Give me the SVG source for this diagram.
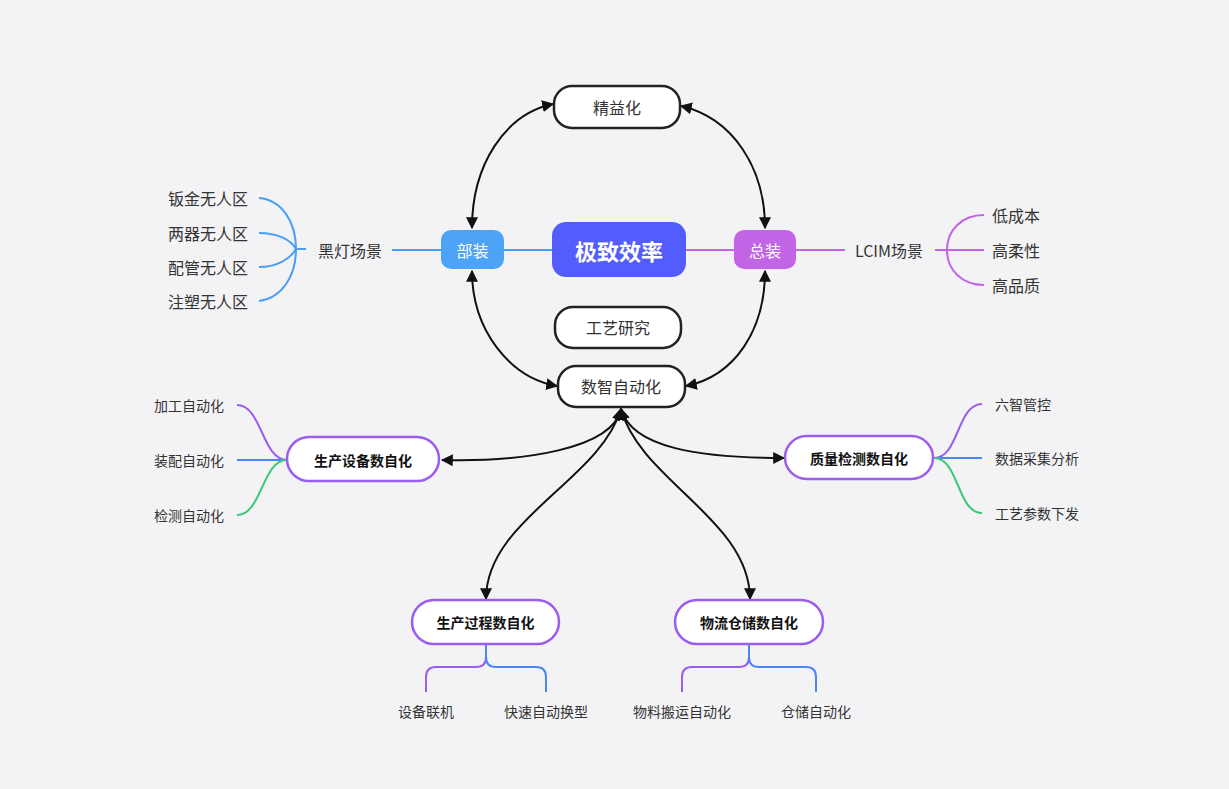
<svg xmlns="http://www.w3.org/2000/svg" width="1229" height="789" viewBox="0 0 1229 789">
<defs>
<marker id="ah" viewBox="0 0 10 10" refX="9" refY="5" markerWidth="6" markerHeight="6" orient="auto-start-reverse" markerUnits="strokeWidth">
<path d="M0,0 L10,5 L0,10 z" fill="#111"/>
</marker>
<style>
text{font-family:"Noto Sans CJK SC","Noto Sans",sans-serif;dominant-baseline:central;fill:#333}
.t16{font-size:16px}
.t14{font-size:14px}
.bw{fill:#fff}
.box{fill:#fff;stroke:#222;stroke-width:2.5}
.pill{fill:#fff;stroke:#9b5cf0;stroke-width:2.5}
.nb{font-size:14px;font-weight:bold;fill:#111}
.conn{fill:none;stroke:#111;stroke-width:2;marker-start:url(#ah);marker-end:url(#ah)}
.bl{fill:none;stroke:#4a9ff5;stroke-width:2}
.pu{fill:none;stroke:#c264e6;stroke-width:2}
.vp{fill:none;stroke:#9b5cf0;stroke-width:2}
.vb{fill:none;stroke:#4a86f7;stroke-width:2}
.vg{fill:none;stroke:#3cc97a;stroke-width:2}
</style>
</defs>
<rect width="1229" height="789" fill="#f3f3f6"/>

<g id="branches">
<path class="bl" d="M296,249 C296,222 282,200 259,198"/>
<path class="bl" d="M296,249 C291,240 278,233 259,233"/>
<path class="bl" d="M296,249 C291,258 278,267 259,267"/>
<path class="bl" d="M296,249 C296,276 282,298 259,301"/>
<path class="bl" d="M296,249 H306"/>
<path class="bl" d="M392,250 H441"/>
<path class="bl" d="M504,250 H552"/>
<path class="pu" d="M686,250 H734"/>
<path class="pu" d="M796,250 H845"/>
<path class="pu" d="M935,250 H984"/>
<path class="pu" d="M984,215 C962,215 947,230 947,250 C947,270 962,285 984,285"/>
<path class="vp" d="M237,405 C262,405 262,460 287,460"/>
<path class="vb" d="M237,460 H287"/>
<path class="vg" d="M237,515 C262,515 262,460 287,460"/>
<path class="vp" d="M934,458 C959,458 957,404 982,404"/>
<path class="vb" d="M934,458 H982"/>
<path class="vg" d="M934,458 C959,458 957,513 982,513"/>
<path class="vp" d="M486,644 V657 Q486,667 476,667 H436 Q426,667 426,677 V692"/>
<path class="vb" d="M486,644 V657 Q486,667 496,667 H536 Q546,667 546,677 V692"/>
<path class="vp" d="M749,644 V657 Q749,667 739,667 H692 Q682,667 682,677 V692"/>
<path class="vb" d="M749,644 V657 Q749,667 759,667 H806 Q816,667 816,677 V692"/>
</g>

<g id="connectors">
<path class="conn" d="M553,104 C505,114 472,165 472,228"/>
<path class="conn" d="M681,106 C733,118 765,168 765,228"/>
<path class="conn" d="M472,271 C472,330 510,378 557,386"/>
<path class="conn" d="M765,271 C765,330 735,376 686,386"/>
<path class="conn" d="M621,409 C612,450 520,462 442,460"/>
<path class="conn" d="M621,409 C632,448 700,458 784,458"/>
<path class="conn" d="M621,409 C600,480 486,520 486,599"/>
<path class="conn" d="M621,409 C640,480 750,520 750,599"/>
</g>

<g id="n-jingyi"><rect class="box" x="554" y="86" width="126" height="42" rx="18"/><text class="t16" x="617" y="107" text-anchor="middle">精益化</text></g>
<g id="n-buzhuang"><rect x="441" y="230" width="63" height="39" rx="10" fill="#4da3f5"/><text class="t16 bw" x="472.5" y="250" text-anchor="middle">部装</text></g>
<g id="n-center"><rect x="552" y="222" width="134" height="55" rx="14" fill="#535cfc"/><text class="bw" x="619" y="250" text-anchor="middle" style="font-size:22px;font-weight:bold">极致效率</text></g>
<g id="n-zongzhuang"><rect x="734" y="230" width="62" height="39" rx="10" fill="#c264e6"/><text class="t16 bw" x="765" y="250" text-anchor="middle">总装</text></g>
<g id="n-gongyi"><rect class="box" x="555" y="307" width="126" height="41" rx="18"/><text class="t16" x="618" y="327" text-anchor="middle">工艺研究</text></g>
<g id="n-shuzhi"><rect class="box" x="558" y="366" width="127" height="41" rx="18"/><text class="t16" x="621" y="386" text-anchor="middle">数智自动化</text></g>

<g id="n-heideng"><text class="t16" x="350" y="250" text-anchor="middle">黑灯场景</text></g>
<g id="n-heideng-items">
<text class="t16" x="248" y="198" text-anchor="end">钣金无人区</text>
<text class="t16" x="248" y="233" text-anchor="end">两器无人区</text>
<text class="t16" x="248" y="267" text-anchor="end">配管无人区</text>
<text class="t16" x="248" y="301" text-anchor="end">注塑无人区</text>
</g>
<g id="n-lcim"><text class="t16" x="889" y="250" text-anchor="middle">LCIM场景</text></g>
<g id="n-lcim-items">
<text class="t16" x="992" y="215">低成本</text>
<text class="t16" x="992" y="250">高柔性</text>
<text class="t16" x="992" y="285">高品质</text>
</g>

<g id="n-shebei"><rect class="pill" x="287" y="437" width="152" height="44" rx="22"/><text class="nb" x="363" y="460" text-anchor="middle">生产设备数自化</text></g>
<g id="n-shebei-items">
<text class="t14" x="224" y="405" text-anchor="end">加工自动化</text>
<text class="t14" x="224" y="460" text-anchor="end">装配自动化</text>
<text class="t14" x="224" y="515" text-anchor="end">检测自动化</text>
</g>
<g id="n-zhiliang"><rect class="pill" x="785" y="436" width="148" height="43" rx="21.5"/><text class="nb" x="859" y="458" text-anchor="middle">质量检测数自化</text></g>
<g id="n-zhiliang-items">
<text class="t14" x="995" y="404">六智管控</text>
<text class="t14" x="995" y="458">数据采集分析</text>
<text class="t14" x="995" y="513">工艺参数下发</text>
</g>
<g id="n-guocheng"><rect class="pill" x="412" y="600" width="147" height="44" rx="22"/><text class="nb" x="485.5" y="622" text-anchor="middle">生产过程数自化</text></g>
<g id="n-guocheng-items">
<text class="t14" x="426" y="711" text-anchor="middle">设备联机</text>
<text class="t14" x="546" y="711" text-anchor="middle">快速自动换型</text>
</g>
<g id="n-wuliu"><rect class="pill" x="675" y="600" width="148" height="44" rx="22"/><text class="nb" x="749" y="622" text-anchor="middle">物流仓储数自化</text></g>
<g id="n-wuliu-items">
<text class="t14" x="682" y="711" text-anchor="middle">物料搬运自动化</text>
<text class="t14" x="816" y="711" text-anchor="middle">仓储自动化</text>
</g>
</svg>
